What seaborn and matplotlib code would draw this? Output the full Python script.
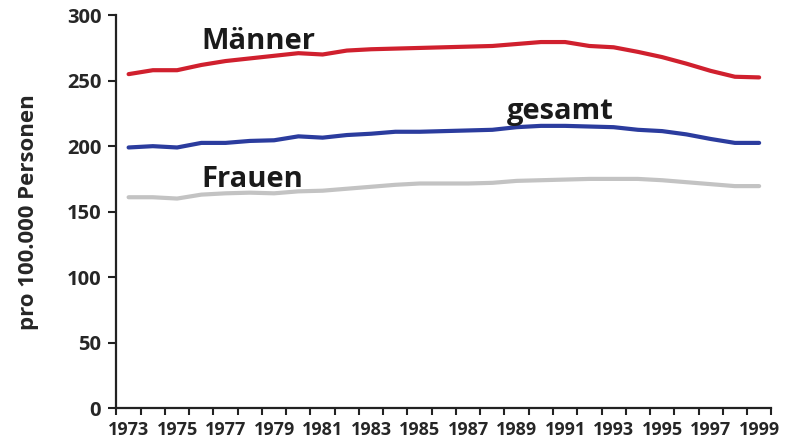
"""
Krebssterblichkeit pro 100.000 Personen, 1973-1999, nach Geschlecht.
"""

import matplotlib
matplotlib.use("Agg")
import matplotlib.pyplot as plt
from matplotlib.ticker import MultipleLocator
import numpy as np
import pandas as pd
import seaborn as sns

years = list(range(1973, 2000))
maenner = [255, 258, 258, 262, 265, 267, 269, 271, 270, 273, 274, 274.5, 275,
           275.5, 276, 276.5, 278, 279.5, 279.5, 276.5, 275.5, 272, 268, 263,
           257.5, 253, 252.5]
gesamt = [199, 200, 199, 202.5, 202.5, 204, 204.5, 207.5, 206.5, 208.5, 209.5,
          211, 211, 211.5, 212, 212.5, 214.5, 215.5, 215.5, 215, 214.5, 212.5,
          211.5, 209, 205.5, 202.5, 202.5]
frauen = [161, 161, 160, 163, 164, 164.5, 164, 165.5, 166, 167.5, 169, 170.5,
          171.5, 171.5, 171.5, 172, 173.5, 174, 174.5, 175, 175, 175, 174,
          172.5, 171, 169.5, 169.5]

series = ["Männer", "gesamt", "Frauen"]
RED, BLUE, GREY = "#d0202e", "#2b3c9e", "#c3c3c3"

sns.set_style("ticks")
plt.rcParams["font.family"] = ["Open Sans", "DejaVu Sans"]
plt.rcParams["font.weight"] = "bold"

df = pd.DataFrame({
    "Jahr": years * 3,
    "Wert": maenner + gesamt + frauen,
    "Gruppe": np.repeat(series, len(years)),
})

fig, ax = plt.subplots(figsize=(7.87, 4.47), dpi=100)
fig.subplots_adjust(left=0.148, right=0.98, bottom=0.087, top=0.966)

sns.lineplot(data=df, x="Jahr", y="Wert", hue="Gruppe", hue_order=series,
             palette=[RED, BLUE, GREY], linewidth=3, legend=False, ax=ax)

ax.set_xlim(1972.5, 1999.5)
ax.set_ylim(0, 300)
ax.set_xticks(years[::2])
ax.set_xticklabels([str(y) for y in years[::2]], fontsize=13, fontweight="bold")
ax.xaxis.set_minor_locator(MultipleLocator(1, offset=0.5))
ax.tick_params(axis="x", which="major", length=0, pad=9)
ax.tick_params(axis="x", which="minor", length=5, width=1.5, color="#222222")
ax.set_yticks(range(0, 301, 50))
ax.set_yticklabels([str(v) for v in range(0, 301, 50)], fontsize=14.5,
                   fontweight="bold")
ax.tick_params(axis="y", length=6, width=1.5, color="#222222", pad=5)

for side in ["top", "right"]:
    ax.spines[side].set_visible(False)
for side in ["left", "bottom"]:
    ax.spines[side].set_linewidth(1.6)
    ax.spines[side].set_color("#222222")

ax.set_xlabel("")
ax.set_ylabel("pro 100.000 Personen", fontsize=16, fontweight="bold", labelpad=20)

ax.text(1976.0, 274, "Männer", fontsize=21, fontweight="bold", color="#1a1a1a")
ax.text(1988.6, 221, "gesamt", fontsize=21, fontweight="bold", color="#1a1a1a")
ax.text(1976.0, 168.5, "Frauen", fontsize=21, fontweight="bold", color="#1a1a1a")

plt.savefig("out.png", dpi=100)
plt.close()
